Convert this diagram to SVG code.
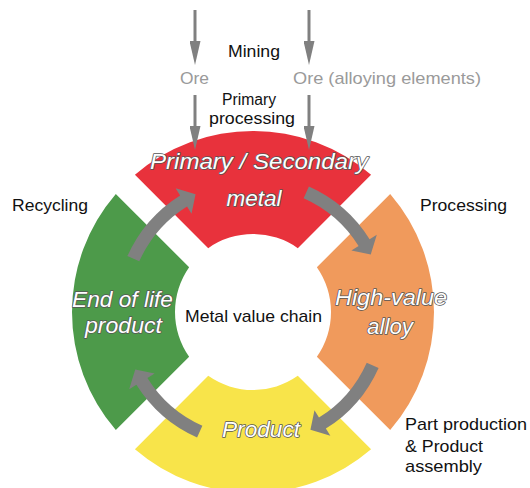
<svg xmlns="http://www.w3.org/2000/svg" width="530" height="488" viewBox="0 0 530 488">
<style>
.t{font-family:"Liberation Sans",Arial,sans-serif;font-size:17px;fill:#111}
.s{font-size:16px}
.m{text-anchor:middle}
.ore{fill:#9a9a9a}
.seg{font-family:"Liberation Sans",Arial,sans-serif;font-size:22px;font-style:italic;fill:#fff;stroke:#555;stroke-width:1.5px;paint-order:stroke;stroke-linejoin:round;text-anchor:middle}
.va{stroke:#808080;stroke-width:3;fill:none;marker-end:url(#ah)}
.ca{fill:#808080}
</style>
<defs>
<marker id="ah" markerUnits="userSpaceOnUse" viewBox="0 0 24 11" refX="4" refY="5.5" markerWidth="24" markerHeight="11" orient="auto"><path d="M0,0 L24,5.5 L0,11 Z" fill="#808080"/></marker>
<path id="carrow" d="M125.61,55.92 A137.5,137.5 0 0 1 72.86,116.60 L77.37,123.81 L57.43,117.74 L61.47,98.37 L65.97,105.58 A124.5,124.5 0 0 0 113.73,50.63 Z"/>
</defs>
<rect width="530" height="488" fill="#fff"/>

<g id="node-primary-secondary-metal">
<path d="M134.93,174.82 A181,181 0 0 1 371.07,174.82 L297.77,248.13 A78,78 0 0 0 208.23,248.13 Z" fill="#E8323C"/>
<text class="seg" x="259" y="169" textLength="218" lengthAdjust="spacingAndGlyphs">Primary / Secondary</text>
<text class="seg" x="254" y="206" textLength="55" lengthAdjust="spacingAndGlyphs">metal</text>
</g>
<g id="node-high-value-alloy">
<path d="M390.18,193.93 A181,181 0 0 1 390.18,430.07 L316.87,356.77 A78,78 0 0 0 316.87,267.23 Z" fill="#F09A5C"/>
<text class="seg" x="391" y="305" textLength="112" lengthAdjust="spacingAndGlyphs">High-value</text>
<text class="seg" x="390" y="334" textLength="46" lengthAdjust="spacingAndGlyphs">alloy</text>
</g>
<g id="node-product">
<path d="M371.07,449.18 A181,181 0 0 1 134.93,449.18 L208.23,375.87 A78,78 0 0 0 297.77,375.87 Z" fill="#F8E44A"/>
<text class="seg" x="261" y="437" textLength="78" lengthAdjust="spacingAndGlyphs">Product</text>
</g>
<g id="node-end-of-life-product">
<path d="M115.82,430.07 A181,181 0 0 1 115.82,193.93 L189.13,267.23 A78,78 0 0 0 189.13,356.77 Z" fill="#4D9A4A"/>
<text class="seg" x="122.5" y="307" textLength="101" lengthAdjust="spacingAndGlyphs">End of life</text>
<text class="seg" x="123.5" y="333" textLength="77" lengthAdjust="spacingAndGlyphs">product</text>
</g>
<g id="node-center">
<text class="t" x="185" y="322" textLength="137" lengthAdjust="spacingAndGlyphs">Metal value chain</text>
</g>
<g id="node-ore">
<text class="t ore" x="180" y="84" textLength="29" lengthAdjust="spacingAndGlyphs">Ore</text>
</g>
<g id="node-ore-alloying">
<text class="t ore" x="293" y="84" textLength="188" lengthAdjust="spacingAndGlyphs">Ore (alloying elements)</text>
</g>

<g id="connectors">
<line class="va" x1="195" y1="10" x2="195" y2="45"/>
<line class="va" x1="309" y1="10" x2="309" y2="45"/>
<line class="va" x1="195" y1="95" x2="195" y2="130"/>
<line class="va" x1="309" y1="95" x2="309" y2="130"/>
<use href="#carrow" class="ca" transform="translate(253,312) rotate(180)"/>
<use href="#carrow" class="ca" transform="translate(253,312) rotate(270)"/>
<use href="#carrow" class="ca" transform="translate(253,312)"/>
<use href="#carrow" class="ca" transform="translate(253,312) rotate(90)"/>
</g>

<g id="stage-labels">
<text class="t m" x="254" y="57" textLength="52" lengthAdjust="spacingAndGlyphs">Mining</text>
<text class="t s m" x="249" y="105" textLength="54" lengthAdjust="spacingAndGlyphs">Primary</text>
<text class="t s m" x="252" y="124" textLength="86" lengthAdjust="spacingAndGlyphs">processing</text>
<text class="t" x="12" y="211" textLength="76" lengthAdjust="spacingAndGlyphs">Recycling</text>
<text class="t" x="420" y="211" textLength="87" lengthAdjust="spacingAndGlyphs">Processing</text>
<text class="t" x="405" y="429.5" textLength="122" lengthAdjust="spacingAndGlyphs">Part production</text>
<text class="t" x="405" y="451.5" textLength="78" lengthAdjust="spacingAndGlyphs">&amp; Product</text>
<text class="t" x="405" y="472" textLength="77" lengthAdjust="spacingAndGlyphs">assembly</text>
</g>
</svg>
